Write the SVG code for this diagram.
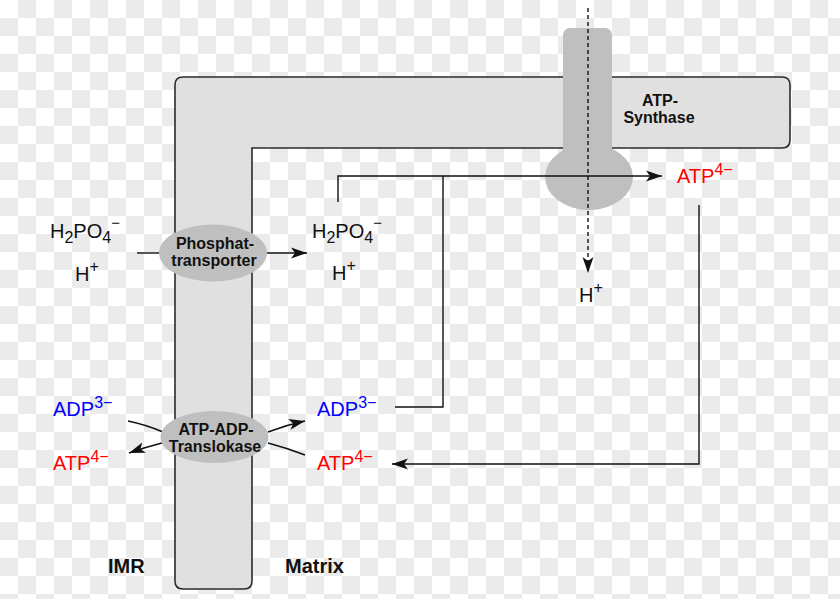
<svg xmlns="http://www.w3.org/2000/svg" width="840" height="599" viewBox="0 0 840 599">
<defs>
<pattern id="cb" width="36" height="36" patternUnits="userSpaceOnUse">
<rect width="36" height="36" fill="#ffffff"/>
<rect x="18" y="0" width="18" height="18" fill="#ebebeb"/>
<rect x="0" y="18" width="18" height="18" fill="#ebebeb"/>
</pattern>
<marker id="ah" markerWidth="18" markerHeight="12" refX="16" refY="6" orient="auto" markerUnits="userSpaceOnUse">
<path d="M0,0.5 L16,6 L0,11.5 L4,6 Z" fill="#111"/>
</marker>
</defs>
<style>
.lbl{font-family:"Liberation Sans",Arial,sans-serif;font-weight:bold;font-size:16px;fill:#111;text-anchor:middle}
.big{font-family:"Liberation Sans",Arial,sans-serif;font-weight:bold;font-size:20px;fill:#111}
.chem{font-family:"Liberation Sans",Arial,sans-serif;font-size:20px;fill:#111}
.red{fill:#ff0000}
.blue{fill:#0000ff}
.prot{fill:#bfbfbf}
.con{fill:none;stroke:#111;stroke-width:1.4}
</style>
<rect width="840" height="599" fill="url(#cb)"/>

<g id="membrane">
<path d="M183,77 H782 Q790,77 790,85 V140 Q790,148 782,148 H252 V581 Q252,589 244,589 H183 Q175,589 175,581 V85 Q175,77 183,77 Z" fill="#e0e0e0" stroke="#2b2b2b" stroke-width="1.6"/>
</g>

<g id="atp-synthase">
<rect x="563" y="28" width="49" height="150" rx="7" class="prot"/>
<ellipse cx="589" cy="177" rx="44" ry="33" class="prot"/>
<text class="lbl" x="660" y="106">ATP-</text>
<text class="lbl" x="659" y="123">Synthase</text>
</g>

<g id="connectors">
<path class="con" d="M137,253 H160"/>
<path class="con" d="M267,253 H307" marker-end="url(#ah)"/>
<path class="con" d="M338,202 V176 H662" marker-end="url(#ah)"/>
<path class="con" d="M395,407 H443 V176"/>
<path class="con" d="M699,205 V464 H392" marker-end="url(#ah)"/>
<path class="con" d="M588,8 V273" stroke-dasharray="4,3" marker-end="url(#ah)"/>
<path class="con" d="M128,421 Q147,425 163,432"/>
<path class="con" d="M162,443 Q146,447 129,453" marker-end="url(#ah)"/>
<path class="con" d="M268,432 Q286,425 305,421" marker-end="url(#ah)"/>
<path class="con" d="M268,443 Q287,448 305,455"/>
</g>

<g id="phosphat-transporter">
<ellipse cx="213" cy="253" rx="54" ry="28.5" class="prot"/>
<text class="lbl" x="215" y="249">Phosphat-</text>
<text class="lbl" x="214" y="266">transporter</text>
</g>

<g id="translokase">
<ellipse cx="214.5" cy="437" rx="54" ry="26" class="prot"/>
<text class="lbl" x="216" y="435">ATP-ADP-</text>
<text class="lbl" x="215" y="452">Translokase</text>
</g>

<g id="imr-labels">
<text class="chem" x="50" y="238">H<tspan font-size="16" dy="5">2</tspan><tspan dy="-5">PO</tspan><tspan font-size="16" dy="5">4</tspan><tspan font-size="15" dy="-15">−</tspan></text>
<text class="chem" x="75" y="281">H<tspan font-size="16" dy="-9">+</tspan></text>
<text class="chem blue" x="53" y="416">ADP<tspan font-size="16" dy="-8">3−</tspan></text>
<text class="chem red" x="53" y="470">ATP<tspan font-size="16" dy="-8">4−</tspan></text>
</g>

<g id="matrix-labels">
<text class="chem" x="312" y="238">H<tspan font-size="16" dy="5">2</tspan><tspan dy="-5">PO</tspan><tspan font-size="16" dy="5">4</tspan><tspan font-size="15" dy="-15">−</tspan></text>
<text class="chem" x="332" y="280">H<tspan font-size="16" dy="-9">+</tspan></text>
<text class="chem blue" x="317" y="416">ADP<tspan font-size="16" dy="-8">3−</tspan></text>
<text class="chem red" x="317" y="470">ATP<tspan font-size="16" dy="-8">4−</tspan></text>
<text class="chem red" x="677" y="183">ATP<tspan font-size="16" dy="-8">4−</tspan></text>
<text class="chem" x="579" y="302">H<tspan font-size="16" dy="-9">+</tspan></text>
</g>

<g id="region-labels">
<text class="big" x="108" y="573">IMR</text>
<text class="big" x="285" y="573">Matrix</text>
</g>
</svg>
